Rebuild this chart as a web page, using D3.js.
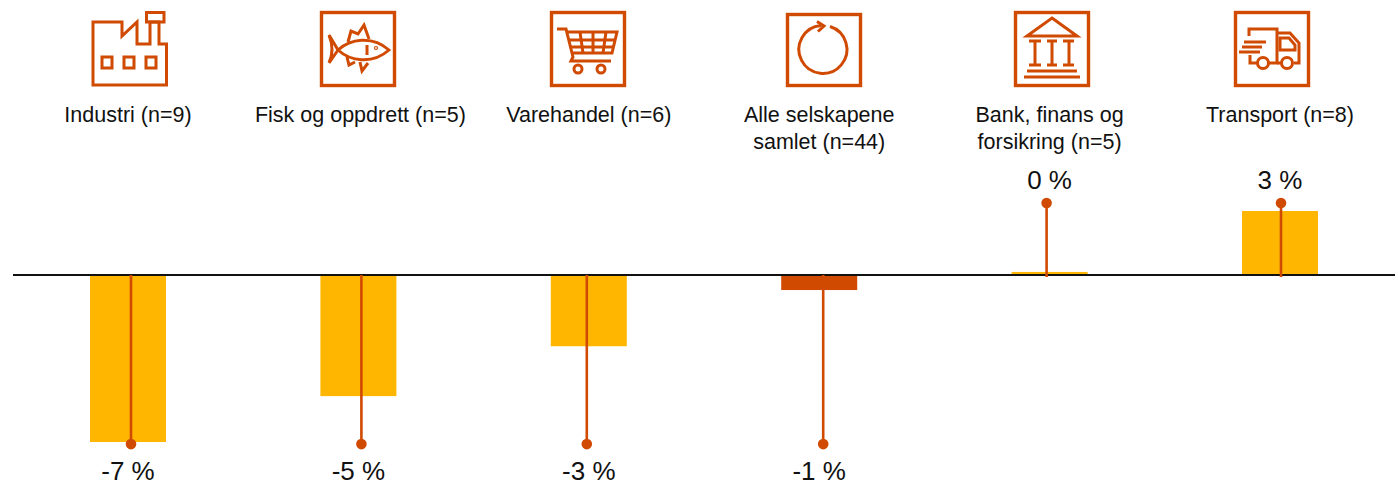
<!doctype html>
<meta charset=utf8>
<title>Selskaper per bransje</title>
<style>
  html, body { margin: 0; background: #fff; }
  svg { display: block; font-family: "Liberation Sans", Arial, sans-serif; fill: #111; }
  .icon * { fill: none; stroke: #d04a02; stroke-width: 3; stroke-linejoin: miter; }
</style>
<svg width=1398 height=482></svg>
<script src=https://cdn.jsdelivr.net/npm/d3@7></script>
<script>
  var categories = ['Industri', 'Fisk', 'Varehandel', 'Alle', 'Bank', 'Transport'];
  var labelLines = [
    ['Industri (n=9)'],
    ['Fisk og oppdrett (n=5)'],
    ['Varehandel (n=6)'],
    ['Alle selskapene', 'samlet (n=44)'],
    ['Bank, finans og', 'forsikring (n=5)'],
    ['Transport (n=8)']
  ];
  var values = [-7.1, -5.15, -3.03, -0.64, 0.13, 2.72];
  var valueLabels = ['-7 %', '-5 %', '-3 %', '-1 %', '0 %', '3 %'];
  var stemEnds = [-7.19, -7.19, -7.19, -7.19, 3.06, 3.06];

  var orange = '#d04a02';
  var yellow = '#ffb600';
  // the leader lines do not sit quite centered on the bars in the original
  var stemNudge = [3, 3, -2, 4, -3, 1];
  var iconX = [92, 320, 550, 786, 1014, 1234];

  var svg = d3.select('svg');
  var x = d3.scalePoint().domain(categories).range([128, 1280]);
  var y = d3.scaleLinear().domain([-7.1, 2.72]).range([442, 211]);
  var zero = y(0);

  // bars
  svg.append('g').selectAll('rect')
    .data(categories)
    .join('rect')
    .attr('x', function(d) { return x(d) - 38; })
    .attr('width', 76)
    .attr('y', function(d, i) { return Math.min(y(values[i]), zero); })
    .attr('height', function(d, i) { return Math.abs(y(values[i]) - zero); })
    .attr('fill', function(d) { return d === 'Alle' ? orange : yellow; });

  // baseline
  svg.append('line')
    .attr('x1', 13).attr('x2', 1395)
    .attr('y1', zero).attr('y2', zero)
    .attr('stroke', '#111').attr('stroke-width', 2);

  // leader lines with dots
  var stems = svg.append('g').selectAll('g')
    .data(categories)
    .join('g')
    .attr('transform', function(d, i) { return 'translate(' + (x(d) + stemNudge[i]) + ',0)'; });
  stems.append('line')
    .attr('y1', function(d, i) { return stemEnds[i] > 0 ? zero + 2 : zero; })
    .attr('y2', function(d, i) { return y(stemEnds[i]); })
    .attr('stroke', orange).attr('stroke-width', 2.6);
  stems.append('circle')
    .attr('cy', function(d, i) { return y(stemEnds[i]); })
    .attr('r', 5.3)
    .attr('fill', orange);

  // value labels
  svg.append('g').selectAll('text')
    .data(categories)
    .join('text')
    .attr('x', function(d) { return x(d); })
    .attr('y', function(d, i) { return stemEnds[i] < 0 ? 480 : 189; })
    .attr('text-anchor', 'middle')
    .attr('font-size', 26)
    .text(function(d, i) { return valueLabels[i]; });

  // category labels
  svg.append('g').selectAll('text')
    .data(categories)
    .join('text')
    .attr('text-anchor', 'middle')
    .attr('font-size', 21.5)
    .each(function(d, i) {
      d3.select(this).selectAll('tspan')
        .data(labelLines[i])
        .join('tspan')
        .attr('x', x(d) + (i === 1 ? 2 : 0))
        .attr('y', function(l, j) { return 122 + j * 27; })
        .text(function(l) { return l; });
    });

  // icons, drawn in a 75 x 75 box
  var icons = svg.append('g').selectAll('g')
    .data(categories)
    .join('g')
    .attr('class', 'icon')
    .attr('transform', function(d, i) { return 'translate(' + iconX[i] + ',11)'; });

  function frame(g) {
    g.append('rect').attr('x', 1.5).attr('y', 1.5).attr('width', 73).attr('height', 73).style('stroke-width', 3.4);
  }
  function path(g, d) { g.append('path').attr('d', d); }
  function ring(g, cx, cy, r) { g.append('circle').attr('cx', cx).attr('cy', cy).attr('r', r); }

  var factory = icons.filter(function(d) { return d === 'Industri'; });
  factory.attr('transform', 'translate(91,11)');
  path(factory, 'M2 11H31V25L46 11V33H59V11H68V33H75.5V74H2Z');
  path(factory, 'M55.5 1.5H73V11H55.5Z');
  path(factory, 'M11 46H21V57H11Z M33 46H43V57H33Z M55 46H65V57H55Z');

  var fish = icons.filter(function(d) { return d === 'Fisk'; });
  frame(fish);
  path(fish, 'M18 39C30 28 52 24 69 39C52 54 30 50 18 39Z');
  path(fish, 'M18 39L9 24Q15 39 9 52Z');
  path(fish, 'M28 31L31 20L38 23L44 14L49 28');
  path(fish, 'M27 46L29 54L35 51 M40 51L42 60L48 52');
  path(fish, 'M47 34V44');
  ring(fish, 56, 37, 0.6);

  var cart = icons.filter(function(d) { return d === 'Varehandel'; });
  frame(cart);
  path(cart, 'M7 18H16L23 46L21 50H61');
  path(cart, 'M17 21H67L62 42H22');
  path(cart, 'M19 29H65 M21 36H63 M30 21L33 42 M43 21V42 M56 21L53 42');
  ring(cart, 28, 58, 4);
  ring(cart, 51, 58, 4);

  var cycle = icons.filter(function(d) { return d === 'Alle'; });
  cycle.attr('transform', 'translate(786,13)');
  cycle.append('rect').attr('x', 1.5).attr('y', 1.5).attr('width', 73).attr('height', 71).style('stroke-width', 3.4);
  path(cycle, 'M44 13.5A24 24 0 1 1 35 12.5');
  path(cycle, 'M31 8.5L38 13L32 18.5');

  var bank = icons.filter(function(d) { return d === 'Bank'; });
  frame(bank);
  path(bank, 'M38 7L63 25H13Z');
  path(bank, 'M15 30H27 M33 30H43 M49 30H60 M15 54H27 M33 54H43 M49 54H60');
  path(bank, 'M21 30V54 M38 30V54 M55 30V54');
  path(bank, 'M13 60H63 M10 66H66');

  var truck = icons.filter(function(d) { return d === 'Transport'; });
  frame(truck);
  path(truck, 'M15 25V18H43V52H35');
  path(truck, 'M43 22H56L65 32V52H60');
  path(truck, 'M46 27H55L61 34V39H46Z');
  path(truck, 'M16 44V52H23');
  path(truck, 'M47 52H43');
  path(truck, 'M10 31H32 M8 36H28 M5 41H26');
  ring(truck, 29, 52, 5.5);
  ring(truck, 53, 52, 5.5);
</script>
